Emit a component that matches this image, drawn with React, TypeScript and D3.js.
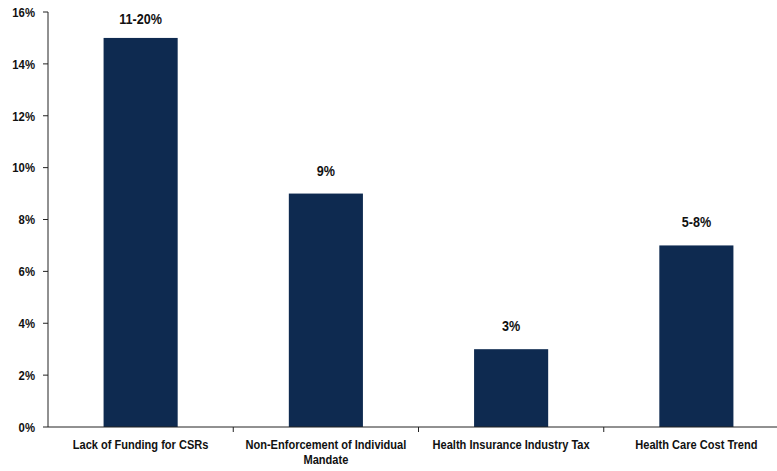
import React from "react";
import * as d3 from "d3";

const categories = [
  "Lack of Funding for CSRs",
  "Non-Enforcement of Individual Mandate",
  "Health Insurance Industry Tax",
  "Health Care Cost Trend",
];
const categoryLines = [
  ["Lack of Funding for CSRs"],
  ["Non-Enforcement of Individual", "Mandate"],
  ["Health Insurance Industry Tax"],
  ["Health Care Cost Trend"],
];
const values = [15, 9, 3, 7];
const valueLabels = ["11-20%", "9%", "3%", "5-8%"];
const yTicks = [0, 2, 4, 6, 8, 10, 12, 14, 16];

const W = 777;
const H = 471;
const FONT = "'Liberation Sans', Arial, sans-serif";

export default function App() {
  const left = 48;
  const right = 789;
  const top = 12;
  const bottom = 427;
  const x = d3.scaleBand<string>().domain(categories).range([left, right]).paddingInner(0).paddingOuter(0);
  const y = d3.scaleLinear().domain([0, 16]).range([bottom, top]);
  const bw = x.bandwidth() * 0.4;
  const color = "#0e2a50";
  return (
    <svg width={W} height={H} style={{ position: "absolute", left: 0, top: 0 }} fontFamily={FONT}>
      <rect width={W} height={H} fill="#ffffff" />
      {values.map((v, i) => {
        const cx = x(categories[i])! + x.bandwidth() / 2;
        const ly = Math.max(y(v) - 18, 24);
        return (
          <g key={i}>
            <rect x={cx - bw / 2} y={y(v)} width={bw} height={bottom - y(v)} fill={color} />
            <text
              transform={`translate(${cx},${ly}) scale(0.9,1)`}
              textAnchor="middle"
              fontSize={14}
              fontWeight="bold"
              fill="#111"
            >
              {valueLabels[i]}
            </text>
          </g>
        );
      })}
      <line x1={left} x2={left} y1={top} y2={bottom} stroke="#222" strokeWidth={1} />
      <line x1={left} x2={right} y1={bottom} y2={bottom} stroke="#222" strokeWidth={1} />
      {yTicks.map((t) => (
        <g key={t}>
          <line x1={left - 5} x2={left} y1={y(t)} y2={y(t)} stroke="#222" />
          <text
            transform={`translate(35,${y(t)}) scale(0.84,1)`}
            dy="0.36em"
            textAnchor="end"
            fontSize={13.5}
            fontWeight="bold"
            fill="#111"
          >
            {t}%
          </text>
        </g>
      ))}
      {categories.map((c, i) =>
        i === 0 ? null : (
          <line key={c} x1={x(c)!} x2={x(c)!} y1={bottom} y2={bottom + 5} stroke="#222" />
        )
      )}
      {categoryLines.map((lines, i) => {
        const cx = x(categories[i])! + x.bandwidth() / 2;
        return (
          <g key={i}>
            {lines.map((l, j) => (
              <text
                key={j}
                transform={`translate(${cx},${449 + j * 14.5}) scale(0.82,1)`}
                textAnchor="middle"
                fontSize={13.5}
                fontWeight="bold"
                fill="#111"
              >
                {l}
              </text>
            ))}
          </g>
        );
      })}
    </svg>
  );
}
